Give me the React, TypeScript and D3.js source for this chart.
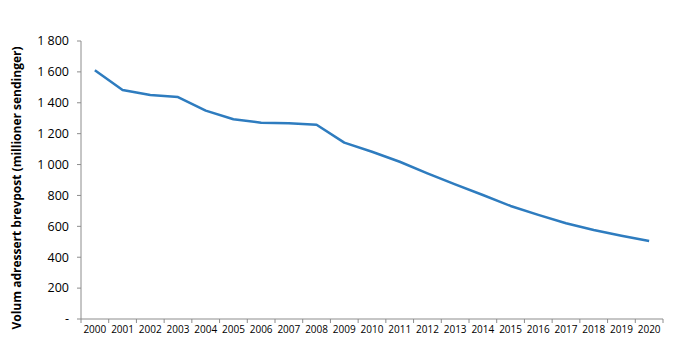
import React from "react";
import * as d3 from "d3";

const years = ["2000","2001","2002","2003","2004","2005","2006","2007","2008","2009","2010","2011","2012","2013","2014","2015","2016","2017","2018","2019","2020"];
const volume = [1610,1483,1450,1437,1349,1293,1271,1267,1258,1142,1083,1018,943,872,803,732,674,620,576,539,505];
const yTicks = [0,200,400,600,800,1000,1200,1400,1600,1800];
const yTitle = "Volum adressert brevpost (millioner sendinger)";

const W = 675, H = 357;
const left = 81, right = 663, top = 41, bottom = 319;
const font = "'Open Sans', 'Liberation Sans', sans-serif";

export default function App() {
  const x = d3.scaleBand<string>().domain(years).range([left, right]);
  const y = d3.scaleLinear().domain([0, 1800]).range([bottom, top]);
  const line = d3.line<number>()
    .x((_, i) => (x(years[i]) as number) + x.bandwidth() / 2)
    .y((d) => y(d));
  const fmt = (v: number) => v === 0 ? "-" : d3.format(",")(v).replace(",", " ");
  const boundaries = years.map((yr) => x(yr) as number).concat([right]);
  return (
    <svg width={W} height={H} style={{ position: "absolute", left: 0, top: 0, background: "#fff" }}>
      <line x1={left} x2={left} y1={top} y2={bottom} stroke="#8c8c8c" strokeWidth={1} />
      {yTicks.map((t) => (
        <g key={t}>
          <line x1={left - 4} x2={left} y1={y(t)} y2={y(t)} stroke="#8c8c8c" />
          <text x={69} y={y(t)} dy="0.35em" textAnchor="end" fontFamily={font} fontSize={12.5} fill="#000">{fmt(t)}</text>
        </g>
      ))}
      <line x1={left} x2={right} y1={bottom} y2={bottom} stroke="#8c8c8c" />
      {boundaries.map((b, i) => (
        <line key={i} x1={b} x2={b} y1={bottom} y2={bottom + 4} stroke="#8c8c8c" />
      ))}
      {years.map((yr) => (
        <text key={yr} x={(x(yr) as number) + x.bandwidth() / 2} y={333} textAnchor="middle" fontFamily={font} fontSize={10} fontWeight={500} fill="#000">{yr}</text>
      ))}
      <path d={line(volume) as string} fill="none" stroke="#2e7cbf" strokeWidth={2.5} strokeLinejoin="round" />
      <text transform={`translate(21, ${(top + bottom) / 2 + 8}) rotate(-90)`} textAnchor="middle" fontFamily={font} fontSize={12} fontWeight="bold" fill="#000">{yTitle}</text>
    </svg>
  );
}
